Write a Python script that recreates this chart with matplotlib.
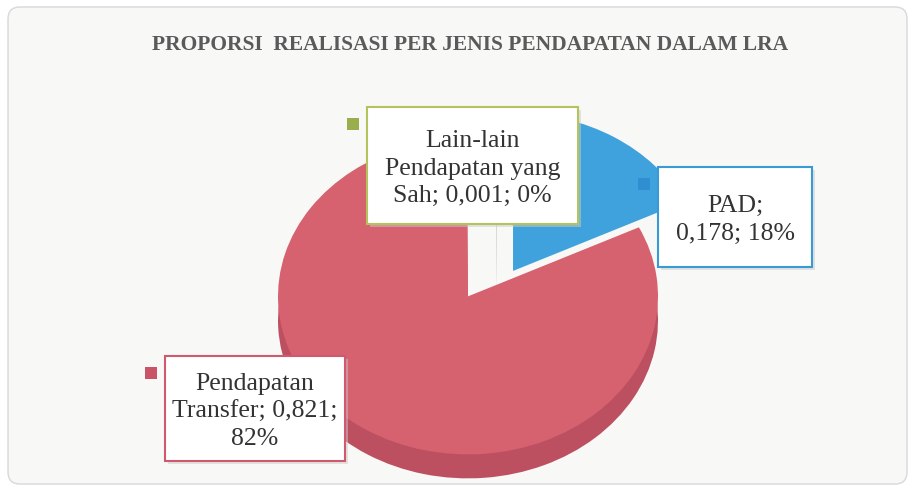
import textwrap

import matplotlib
matplotlib.use("Agg")
import matplotlib.pyplot as plt
from matplotlib.patches import Rectangle, FancyBboxPatch

title = "PROPORSI  REALISASI PER JENIS PENDAPATAN DALAM LRA"

# slice order as in the original (starts at 12 o'clock, clockwise)
categories = ["PAD", "Pendapatan Transfer", "Lain-lain Pendapatan yang Sah"]
values = [0.178, 0.821, 0.001]
percents = [18, 82, 0]

top_colors = ["#3fa2dc", "#d6616f", "#dcdcd6"]
side_colors = ["none", "#bd5060", "#b8bbb0"]
key_colors = ["#2f8fd0", "#c85466", "#9aae4e"]
border_colors = ["#3a9ad6", "#cf5a6c", "#b6c25c"]
# explode offsets (x, y) in pie radius units, Excel's 3D view shifts them oddly
offsets = [(0.216, 0.127), (-0.021, -0.034), (0.13, 0.1)]

W, H = 915, 489
fig = plt.figure(figsize=(W / 100, H / 100), dpi=100)
fig.patch.set_facecolor("white")

# background / chart area in pixel coordinates
bg = fig.add_axes([0, 0, 1, 1], zorder=0)
bg.set_xlim(0, W)
bg.set_ylim(H, 0)
bg.axis("off")
bg.add_patch(FancyBboxPatch((8, 8), W - 16, H - 12, boxstyle="round,pad=0,rounding_size=12",
                            facecolor="#f8f8f6", edgecolor="#d8d8d8", lw=1))
bg.text(470, 45, title, ha="center", va="center", fontsize=15.5, fontweight="bold",
        family="Liberation Serif", color="#5a5a5a")

# pie axes, stretched so the pie looks tilted
rx, ry = 190, 158
cx, cy = 472, 292
pie_ax = fig.add_axes([(cx - 1.5 * rx) / W, (H - cy - 1.5 * ry) / H, 3 * rx / W, 3 * ry / H], zorder=1)
depth = 24 / ry
side, _ = pie_ax.pie(values, colors=side_colors, startangle=90, counterclock=False,
                     wedgeprops=dict(linewidth=0))
top, _ = pie_ax.pie(values, colors=top_colors, startangle=90, counterclock=False,
                    wedgeprops=dict(linewidth=0))
for i in range(len(values)):
    ox, oy = offsets[i]
    side[i].set_center((ox, oy - depth))
    top[i].set_center((ox, oy))
pie_ax.set_aspect("auto")
pie_ax.set_xlim(-1.5, 1.5)
pie_ax.set_ylim(-1.5, 1.5)
pie_ax.axis("off")

# data labels
ov = fig.add_axes([0, 0, 1, 1], zorder=2)
ov.set_xlim(0, W)
ov.set_ylim(H, 0)
ov.axis("off")

boxes = [(658, 168, 154, 100), (165, 357, 180, 105), (367, 108, 211, 117)]
wrap_widths = [10, 16, 15]
for i, name in enumerate(categories):
    txt = "{}; {}; {}%".format(name, ("%.3f" % values[i]).replace(".", ","), percents[i])
    txt = "\n".join(textwrap.wrap(txt, wrap_widths[i]))
    x, y, w, h = boxes[i]
    ov.add_patch(Rectangle((x + 3, y + 3), w, h, facecolor="#cccccc", edgecolor="none", alpha=0.5))
    ov.add_patch(Rectangle((x, y), w, h, facecolor="white", edgecolor=border_colors[i], lw=1.5))
    ov.add_patch(Rectangle((x - 20, y + 11), 12, 12, facecolor=key_colors[i], edgecolor="none"))
    ov.text(x + w / 2, y + h / 2 + 2, txt, ha="center", va="center", fontsize=18.5,
            family="Liberation Serif", color="#333333", linespacing=1.3)

fig.savefig("out.png", dpi=100)
